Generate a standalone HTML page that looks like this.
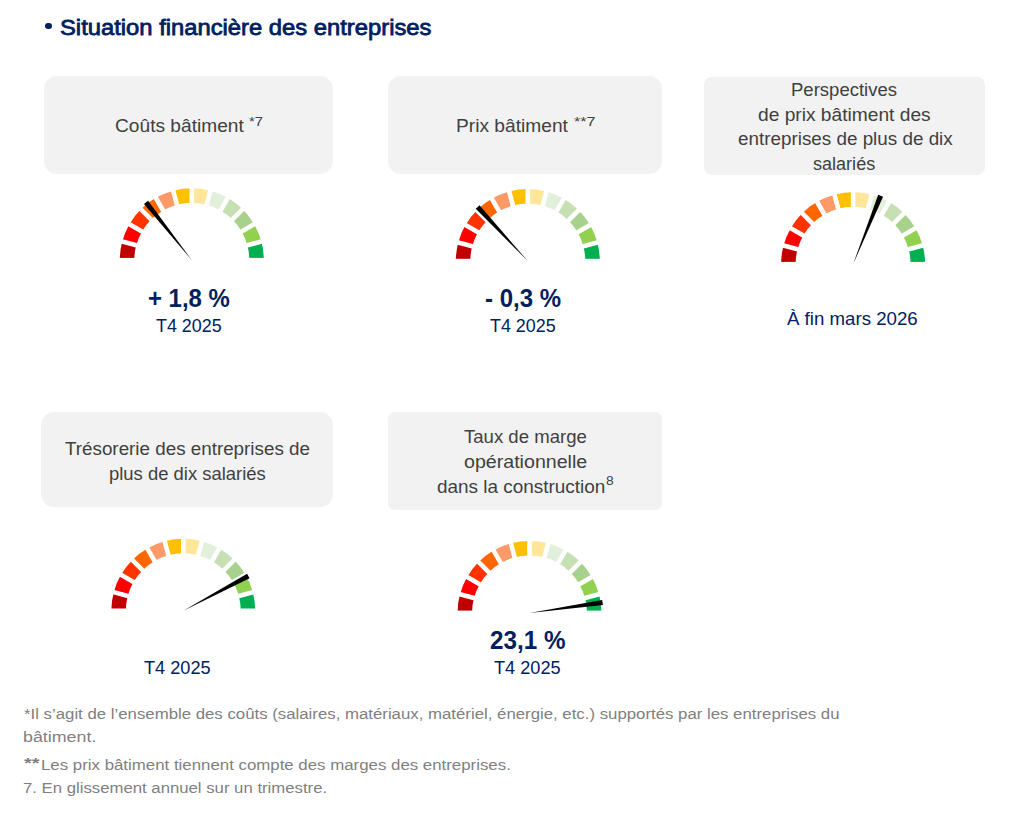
<!DOCTYPE html>
<html><head><meta charset="utf-8"><style>
html,body{margin:0;padding:0;background:#fff;}
body{width:1020px;height:815px;position:relative;overflow:hidden;font-family:"Liberation Sans",sans-serif;}
.b{position:absolute;background:#F2F2F2;}
.t{position:absolute;white-space:nowrap;transform-origin:0 0;}
.dot{position:absolute;left:45.3px;top:22.8px;width:6.4px;height:6.4px;border-radius:50%;background:#002060;}
svg{position:absolute;left:0;top:0;}
</style></head><body>
<div class="dot"></div>
<div class="b" style="left:44.2px;top:76.0px;width:288.6px;height:97.8px;border-radius:13px"></div>
<div class="b" style="left:388.2px;top:76.0px;width:273.6px;height:97.8px;border-radius:13px"></div>
<div class="b" style="left:703.9px;top:77.0px;width:281.3px;height:97.5px;border-radius:8px"></div>
<div class="b" style="left:40.8px;top:412.1px;width:291.9px;height:95.3px;border-radius:13px"></div>
<div class="b" style="left:387.9px;top:412.0px;width:274.1px;height:97.7px;border-radius:7px"></div>
<svg width="1020" height="815" viewBox="0 0 1020 815">
<path fill="#C00000" d="M119.80,260.20 A72.0,72.0 0 0 1 122.25,241.57 L136.26,245.32 A57.5,57.5 0 0 0 134.30,260.20Z"/>
<path fill="#FF0000" d="M122.25,241.57 A72.0,72.0 0 0 1 129.45,224.20 L142.00,231.45 A57.5,57.5 0 0 0 136.26,245.32Z"/>
<path fill="#FF3300" d="M129.45,224.20 A72.0,72.0 0 0 1 140.89,209.29 L151.14,219.54 A57.5,57.5 0 0 0 142.00,231.45Z"/>
<path fill="#FF6600" d="M140.89,209.29 A72.0,72.0 0 0 1 155.80,197.85 L163.05,210.40 A57.5,57.5 0 0 0 151.14,219.54Z"/>
<path fill="#FF9966" d="M155.80,197.85 A72.0,72.0 0 0 1 173.17,190.65 L176.92,204.66 A57.5,57.5 0 0 0 163.05,210.40Z"/>
<path fill="#FFC000" d="M173.17,190.65 A72.0,72.0 0 0 1 191.80,188.20 L191.80,202.70 A57.5,57.5 0 0 0 176.92,204.66Z"/>
<path fill="#FFE699" d="M191.80,188.20 A72.0,72.0 0 0 1 210.43,190.65 L206.68,204.66 A57.5,57.5 0 0 0 191.80,202.70Z"/>
<path fill="#E2EFDA" d="M210.43,190.65 A72.0,72.0 0 0 1 227.80,197.85 L220.55,210.40 A57.5,57.5 0 0 0 206.68,204.66Z"/>
<path fill="#C6E0B4" d="M227.80,197.85 A72.0,72.0 0 0 1 242.71,209.29 L232.46,219.54 A57.5,57.5 0 0 0 220.55,210.40Z"/>
<path fill="#A9D18E" d="M242.71,209.29 A72.0,72.0 0 0 1 254.15,224.20 L241.60,231.45 A57.5,57.5 0 0 0 232.46,219.54Z"/>
<path fill="#92D050" d="M254.15,224.20 A72.0,72.0 0 0 1 261.35,241.57 L247.34,245.32 A57.5,57.5 0 0 0 241.60,231.45Z"/>
<path fill="#00B050" d="M261.35,241.57 A72.0,72.0 0 0 1 263.80,260.20 L249.30,260.20 A57.5,57.5 0 0 0 247.34,245.32Z"/>
<line x1="137.30" y1="260.20" x2="116.80" y2="260.20" stroke="#fff" stroke-width="4.6"/>
<line x1="139.16" y1="246.09" x2="119.36" y2="240.79" stroke="#fff" stroke-width="4.6"/>
<line x1="144.60" y1="232.95" x2="126.85" y2="222.70" stroke="#fff" stroke-width="4.6"/>
<line x1="153.26" y1="221.66" x2="138.77" y2="207.17" stroke="#fff" stroke-width="4.6"/>
<line x1="164.55" y1="213.00" x2="154.30" y2="195.25" stroke="#fff" stroke-width="4.6"/>
<line x1="177.69" y1="207.56" x2="172.39" y2="187.76" stroke="#fff" stroke-width="4.6"/>
<line x1="191.80" y1="205.70" x2="191.80" y2="185.20" stroke="#fff" stroke-width="4.6"/>
<line x1="205.91" y1="207.56" x2="211.21" y2="187.76" stroke="#fff" stroke-width="4.6"/>
<line x1="219.05" y1="213.00" x2="229.30" y2="195.25" stroke="#fff" stroke-width="4.6"/>
<line x1="230.34" y1="221.66" x2="244.83" y2="207.17" stroke="#fff" stroke-width="4.6"/>
<line x1="239.00" y1="232.95" x2="256.75" y2="222.70" stroke="#fff" stroke-width="4.6"/>
<line x1="244.44" y1="246.09" x2="264.24" y2="240.79" stroke="#fff" stroke-width="4.6"/>
<line x1="246.30" y1="260.20" x2="266.80" y2="260.20" stroke="#fff" stroke-width="4.6"/>
<path fill="#000" d="M191.80,260.20 L148.10,200.67 L144.02,203.89Z"/>
<path fill="#C00000" d="M455.80,261.10 A72.0,72.0 0 0 1 458.25,242.47 L472.26,246.22 A57.5,57.5 0 0 0 470.30,261.10Z"/>
<path fill="#FF0000" d="M458.25,242.47 A72.0,72.0 0 0 1 465.45,225.10 L478.00,232.35 A57.5,57.5 0 0 0 472.26,246.22Z"/>
<path fill="#FF3300" d="M465.45,225.10 A72.0,72.0 0 0 1 476.89,210.19 L487.14,220.44 A57.5,57.5 0 0 0 478.00,232.35Z"/>
<path fill="#FF6600" d="M476.89,210.19 A72.0,72.0 0 0 1 491.80,198.75 L499.05,211.30 A57.5,57.5 0 0 0 487.14,220.44Z"/>
<path fill="#FF9966" d="M491.80,198.75 A72.0,72.0 0 0 1 509.17,191.55 L512.92,205.56 A57.5,57.5 0 0 0 499.05,211.30Z"/>
<path fill="#FFC000" d="M509.17,191.55 A72.0,72.0 0 0 1 527.80,189.10 L527.80,203.60 A57.5,57.5 0 0 0 512.92,205.56Z"/>
<path fill="#FFE699" d="M527.80,189.10 A72.0,72.0 0 0 1 546.43,191.55 L542.68,205.56 A57.5,57.5 0 0 0 527.80,203.60Z"/>
<path fill="#E2EFDA" d="M546.43,191.55 A72.0,72.0 0 0 1 563.80,198.75 L556.55,211.30 A57.5,57.5 0 0 0 542.68,205.56Z"/>
<path fill="#C6E0B4" d="M563.80,198.75 A72.0,72.0 0 0 1 578.71,210.19 L568.46,220.44 A57.5,57.5 0 0 0 556.55,211.30Z"/>
<path fill="#A9D18E" d="M578.71,210.19 A72.0,72.0 0 0 1 590.15,225.10 L577.60,232.35 A57.5,57.5 0 0 0 568.46,220.44Z"/>
<path fill="#92D050" d="M590.15,225.10 A72.0,72.0 0 0 1 597.35,242.47 L583.34,246.22 A57.5,57.5 0 0 0 577.60,232.35Z"/>
<path fill="#00B050" d="M597.35,242.47 A72.0,72.0 0 0 1 599.80,261.10 L585.30,261.10 A57.5,57.5 0 0 0 583.34,246.22Z"/>
<line x1="473.30" y1="261.10" x2="452.80" y2="261.10" stroke="#fff" stroke-width="4.6"/>
<line x1="475.16" y1="246.99" x2="455.36" y2="241.69" stroke="#fff" stroke-width="4.6"/>
<line x1="480.60" y1="233.85" x2="462.85" y2="223.60" stroke="#fff" stroke-width="4.6"/>
<line x1="489.26" y1="222.56" x2="474.77" y2="208.07" stroke="#fff" stroke-width="4.6"/>
<line x1="500.55" y1="213.90" x2="490.30" y2="196.15" stroke="#fff" stroke-width="4.6"/>
<line x1="513.69" y1="208.46" x2="508.39" y2="188.66" stroke="#fff" stroke-width="4.6"/>
<line x1="527.80" y1="206.60" x2="527.80" y2="186.10" stroke="#fff" stroke-width="4.6"/>
<line x1="541.91" y1="208.46" x2="547.21" y2="188.66" stroke="#fff" stroke-width="4.6"/>
<line x1="555.05" y1="213.90" x2="565.30" y2="196.15" stroke="#fff" stroke-width="4.6"/>
<line x1="566.34" y1="222.56" x2="580.83" y2="208.07" stroke="#fff" stroke-width="4.6"/>
<line x1="575.00" y1="233.85" x2="592.75" y2="223.60" stroke="#fff" stroke-width="4.6"/>
<line x1="580.44" y1="246.99" x2="600.24" y2="241.69" stroke="#fff" stroke-width="4.6"/>
<line x1="582.30" y1="261.10" x2="602.80" y2="261.10" stroke="#fff" stroke-width="4.6"/>
<path fill="#000" d="M527.80,261.10 L479.56,205.18 L475.75,208.72Z"/>
<path fill="#C00000" d="M781.10,264.20 A72.0,72.0 0 0 1 783.55,245.57 L797.56,249.32 A57.5,57.5 0 0 0 795.60,264.20Z"/>
<path fill="#FF0000" d="M783.55,245.57 A72.0,72.0 0 0 1 790.75,228.20 L803.30,235.45 A57.5,57.5 0 0 0 797.56,249.32Z"/>
<path fill="#FF3300" d="M790.75,228.20 A72.0,72.0 0 0 1 802.19,213.29 L812.44,223.54 A57.5,57.5 0 0 0 803.30,235.45Z"/>
<path fill="#FF6600" d="M802.19,213.29 A72.0,72.0 0 0 1 817.10,201.85 L824.35,214.40 A57.5,57.5 0 0 0 812.44,223.54Z"/>
<path fill="#FF9966" d="M817.10,201.85 A72.0,72.0 0 0 1 834.47,194.65 L838.22,208.66 A57.5,57.5 0 0 0 824.35,214.40Z"/>
<path fill="#FFC000" d="M834.47,194.65 A72.0,72.0 0 0 1 853.10,192.20 L853.10,206.70 A57.5,57.5 0 0 0 838.22,208.66Z"/>
<path fill="#FFE699" d="M853.10,192.20 A72.0,72.0 0 0 1 871.73,194.65 L867.98,208.66 A57.5,57.5 0 0 0 853.10,206.70Z"/>
<path fill="#E2EFDA" d="M871.73,194.65 A72.0,72.0 0 0 1 889.10,201.85 L881.85,214.40 A57.5,57.5 0 0 0 867.98,208.66Z"/>
<path fill="#C6E0B4" d="M889.10,201.85 A72.0,72.0 0 0 1 904.01,213.29 L893.76,223.54 A57.5,57.5 0 0 0 881.85,214.40Z"/>
<path fill="#A9D18E" d="M904.01,213.29 A72.0,72.0 0 0 1 915.45,228.20 L902.90,235.45 A57.5,57.5 0 0 0 893.76,223.54Z"/>
<path fill="#92D050" d="M915.45,228.20 A72.0,72.0 0 0 1 922.65,245.57 L908.64,249.32 A57.5,57.5 0 0 0 902.90,235.45Z"/>
<path fill="#00B050" d="M922.65,245.57 A72.0,72.0 0 0 1 925.10,264.20 L910.60,264.20 A57.5,57.5 0 0 0 908.64,249.32Z"/>
<line x1="798.60" y1="264.20" x2="778.10" y2="264.20" stroke="#fff" stroke-width="4.6"/>
<line x1="800.46" y1="250.09" x2="780.66" y2="244.79" stroke="#fff" stroke-width="4.6"/>
<line x1="805.90" y1="236.95" x2="788.15" y2="226.70" stroke="#fff" stroke-width="4.6"/>
<line x1="814.56" y1="225.66" x2="800.07" y2="211.17" stroke="#fff" stroke-width="4.6"/>
<line x1="825.85" y1="217.00" x2="815.60" y2="199.25" stroke="#fff" stroke-width="4.6"/>
<line x1="838.99" y1="211.56" x2="833.69" y2="191.76" stroke="#fff" stroke-width="4.6"/>
<line x1="853.10" y1="209.70" x2="853.10" y2="189.20" stroke="#fff" stroke-width="4.6"/>
<line x1="867.21" y1="211.56" x2="872.51" y2="191.76" stroke="#fff" stroke-width="4.6"/>
<line x1="880.35" y1="217.00" x2="890.60" y2="199.25" stroke="#fff" stroke-width="4.6"/>
<line x1="891.64" y1="225.66" x2="906.13" y2="211.17" stroke="#fff" stroke-width="4.6"/>
<line x1="900.30" y1="236.95" x2="918.05" y2="226.70" stroke="#fff" stroke-width="4.6"/>
<line x1="905.74" y1="250.09" x2="925.54" y2="244.79" stroke="#fff" stroke-width="4.6"/>
<line x1="907.60" y1="264.20" x2="928.10" y2="264.20" stroke="#fff" stroke-width="4.6"/>
<path fill="#000" d="M853.10,264.20 L883.04,196.70 L878.21,194.76Z"/>
<path fill="#C00000" d="M111.30,610.80 A72.0,72.0 0 0 1 113.75,592.17 L127.76,595.92 A57.5,57.5 0 0 0 125.80,610.80Z"/>
<path fill="#FF0000" d="M113.75,592.17 A72.0,72.0 0 0 1 120.95,574.80 L133.50,582.05 A57.5,57.5 0 0 0 127.76,595.92Z"/>
<path fill="#FF3300" d="M120.95,574.80 A72.0,72.0 0 0 1 132.39,559.89 L142.64,570.14 A57.5,57.5 0 0 0 133.50,582.05Z"/>
<path fill="#FF6600" d="M132.39,559.89 A72.0,72.0 0 0 1 147.30,548.45 L154.55,561.00 A57.5,57.5 0 0 0 142.64,570.14Z"/>
<path fill="#FF9966" d="M147.30,548.45 A72.0,72.0 0 0 1 164.67,541.25 L168.42,555.26 A57.5,57.5 0 0 0 154.55,561.00Z"/>
<path fill="#FFC000" d="M164.67,541.25 A72.0,72.0 0 0 1 183.30,538.80 L183.30,553.30 A57.5,57.5 0 0 0 168.42,555.26Z"/>
<path fill="#FFE699" d="M183.30,538.80 A72.0,72.0 0 0 1 201.93,541.25 L198.18,555.26 A57.5,57.5 0 0 0 183.30,553.30Z"/>
<path fill="#E2EFDA" d="M201.93,541.25 A72.0,72.0 0 0 1 219.30,548.45 L212.05,561.00 A57.5,57.5 0 0 0 198.18,555.26Z"/>
<path fill="#C6E0B4" d="M219.30,548.45 A72.0,72.0 0 0 1 234.21,559.89 L223.96,570.14 A57.5,57.5 0 0 0 212.05,561.00Z"/>
<path fill="#A9D18E" d="M234.21,559.89 A72.0,72.0 0 0 1 245.65,574.80 L233.10,582.05 A57.5,57.5 0 0 0 223.96,570.14Z"/>
<path fill="#92D050" d="M245.65,574.80 A72.0,72.0 0 0 1 252.85,592.17 L238.84,595.92 A57.5,57.5 0 0 0 233.10,582.05Z"/>
<path fill="#00B050" d="M252.85,592.17 A72.0,72.0 0 0 1 255.30,610.80 L240.80,610.80 A57.5,57.5 0 0 0 238.84,595.92Z"/>
<line x1="128.80" y1="610.80" x2="108.30" y2="610.80" stroke="#fff" stroke-width="4.6"/>
<line x1="130.66" y1="596.69" x2="110.86" y2="591.39" stroke="#fff" stroke-width="4.6"/>
<line x1="136.10" y1="583.55" x2="118.35" y2="573.30" stroke="#fff" stroke-width="4.6"/>
<line x1="144.76" y1="572.26" x2="130.27" y2="557.77" stroke="#fff" stroke-width="4.6"/>
<line x1="156.05" y1="563.60" x2="145.80" y2="545.85" stroke="#fff" stroke-width="4.6"/>
<line x1="169.19" y1="558.16" x2="163.89" y2="538.36" stroke="#fff" stroke-width="4.6"/>
<line x1="183.30" y1="556.30" x2="183.30" y2="535.80" stroke="#fff" stroke-width="4.6"/>
<line x1="197.41" y1="558.16" x2="202.71" y2="538.36" stroke="#fff" stroke-width="4.6"/>
<line x1="210.55" y1="563.60" x2="220.80" y2="545.85" stroke="#fff" stroke-width="4.6"/>
<line x1="221.84" y1="572.26" x2="236.33" y2="557.77" stroke="#fff" stroke-width="4.6"/>
<line x1="230.50" y1="583.55" x2="248.25" y2="573.30" stroke="#fff" stroke-width="4.6"/>
<line x1="235.94" y1="596.69" x2="255.74" y2="591.39" stroke="#fff" stroke-width="4.6"/>
<line x1="237.80" y1="610.80" x2="258.30" y2="610.80" stroke="#fff" stroke-width="4.6"/>
<path fill="#000" d="M183.30,610.80 L249.57,578.22 L247.11,573.63Z"/>
<path fill="#C00000" d="M457.50,612.90 A72.0,72.0 0 0 1 459.95,594.27 L473.96,598.02 A57.5,57.5 0 0 0 472.00,612.90Z"/>
<path fill="#FF0000" d="M459.95,594.27 A72.0,72.0 0 0 1 467.15,576.90 L479.70,584.15 A57.5,57.5 0 0 0 473.96,598.02Z"/>
<path fill="#FF3300" d="M467.15,576.90 A72.0,72.0 0 0 1 478.59,561.99 L488.84,572.24 A57.5,57.5 0 0 0 479.70,584.15Z"/>
<path fill="#FF6600" d="M478.59,561.99 A72.0,72.0 0 0 1 493.50,550.55 L500.75,563.10 A57.5,57.5 0 0 0 488.84,572.24Z"/>
<path fill="#FF9966" d="M493.50,550.55 A72.0,72.0 0 0 1 510.87,543.35 L514.62,557.36 A57.5,57.5 0 0 0 500.75,563.10Z"/>
<path fill="#FFC000" d="M510.87,543.35 A72.0,72.0 0 0 1 529.50,540.90 L529.50,555.40 A57.5,57.5 0 0 0 514.62,557.36Z"/>
<path fill="#FFE699" d="M529.50,540.90 A72.0,72.0 0 0 1 548.13,543.35 L544.38,557.36 A57.5,57.5 0 0 0 529.50,555.40Z"/>
<path fill="#E2EFDA" d="M548.13,543.35 A72.0,72.0 0 0 1 565.50,550.55 L558.25,563.10 A57.5,57.5 0 0 0 544.38,557.36Z"/>
<path fill="#C6E0B4" d="M565.50,550.55 A72.0,72.0 0 0 1 580.41,561.99 L570.16,572.24 A57.5,57.5 0 0 0 558.25,563.10Z"/>
<path fill="#A9D18E" d="M580.41,561.99 A72.0,72.0 0 0 1 591.85,576.90 L579.30,584.15 A57.5,57.5 0 0 0 570.16,572.24Z"/>
<path fill="#92D050" d="M591.85,576.90 A72.0,72.0 0 0 1 599.05,594.27 L585.04,598.02 A57.5,57.5 0 0 0 579.30,584.15Z"/>
<path fill="#00B050" d="M599.05,594.27 A72.0,72.0 0 0 1 601.50,612.90 L587.00,612.90 A57.5,57.5 0 0 0 585.04,598.02Z"/>
<line x1="475.00" y1="612.90" x2="454.50" y2="612.90" stroke="#fff" stroke-width="4.6"/>
<line x1="476.86" y1="598.79" x2="457.06" y2="593.49" stroke="#fff" stroke-width="4.6"/>
<line x1="482.30" y1="585.65" x2="464.55" y2="575.40" stroke="#fff" stroke-width="4.6"/>
<line x1="490.96" y1="574.36" x2="476.47" y2="559.87" stroke="#fff" stroke-width="4.6"/>
<line x1="502.25" y1="565.70" x2="492.00" y2="547.95" stroke="#fff" stroke-width="4.6"/>
<line x1="515.39" y1="560.26" x2="510.09" y2="540.46" stroke="#fff" stroke-width="4.6"/>
<line x1="529.50" y1="558.40" x2="529.50" y2="537.90" stroke="#fff" stroke-width="4.6"/>
<line x1="543.61" y1="560.26" x2="548.91" y2="540.46" stroke="#fff" stroke-width="4.6"/>
<line x1="556.75" y1="565.70" x2="567.00" y2="547.95" stroke="#fff" stroke-width="4.6"/>
<line x1="568.04" y1="574.36" x2="582.53" y2="559.87" stroke="#fff" stroke-width="4.6"/>
<line x1="576.70" y1="585.65" x2="594.45" y2="575.40" stroke="#fff" stroke-width="4.6"/>
<line x1="582.14" y1="598.79" x2="601.94" y2="593.49" stroke="#fff" stroke-width="4.6"/>
<line x1="584.00" y1="612.90" x2="604.50" y2="612.90" stroke="#fff" stroke-width="4.6"/>
<path fill="#000" d="M529.50,612.90 L602.93,605.08 L602.20,599.93Z"/>
</svg>
<div class="t" style="left:59.93px;top:16.51px;font-size:22.55px;line-height:22.55px;font-weight:normal;color:#002060;-webkit-text-stroke:0.8px #002060;transform:scaleX(1.0546)">Situation financière des entreprises</div>
<div class="t" style="left:114.74px;top:117.72px;font-size:17.45px;line-height:17.45px;font-weight:normal;color:#404040;transform:scaleX(1.0981)">Coûts bâtiment</div>
<div class="t" style="left:248.78px;top:116.23px;font-size:12.36px;line-height:12.36px;font-weight:normal;color:#404040;transform:scaleX(1.1915)">*7</div>
<div class="t" style="left:456.12px;top:117.72px;font-size:17.45px;line-height:17.45px;font-weight:normal;color:#404040;transform:scaleX(1.1000)">Prix bâtiment</div>
<div class="t" style="left:573.76px;top:116.23px;font-size:12.36px;line-height:12.36px;font-weight:normal;color:#404040;transform:scaleX(1.3056)">**7</div>
<div class="t" style="left:791.47px;top:81.85px;font-size:17.89px;line-height:17.89px;font-weight:normal;color:#404040;transform:scaleX(1.0366)">Perspectives</div>
<div class="t" style="left:758.08px;top:107.05px;font-size:17.89px;line-height:17.89px;font-weight:normal;color:#404040;transform:scaleX(1.0725)">de prix bâtiment des</div>
<div class="t" style="left:737.50px;top:130.75px;font-size:17.89px;line-height:17.89px;font-weight:normal;color:#404040;transform:scaleX(1.0541)">entreprises de plus de dix</div>
<div class="t" style="left:813.20px;top:156.05px;font-size:17.89px;line-height:17.89px;font-weight:normal;color:#404040;transform:scaleX(1.0097)">salariés</div>
<div class="t" style="left:147.78px;top:285.88px;font-size:25.89px;line-height:25.89px;font-weight:bold;color:#002060;transform:scaleX(0.9247)">+ 1,8 %</div>
<div class="t" style="left:155.60px;top:317.72px;font-size:17.45px;line-height:17.45px;font-weight:normal;color:#002060;transform:scaleX(1.0251)">T4 2025</div>
<div class="t" style="left:485.10px;top:285.88px;font-size:25.89px;line-height:25.89px;font-weight:bold;color:#002060;transform:scaleX(0.9267)">- 0,3 %</div>
<div class="t" style="left:490.10px;top:317.72px;font-size:17.45px;line-height:17.45px;font-weight:normal;color:#002060;transform:scaleX(1.0251)">T4 2025</div>
<div class="t" style="left:787.25px;top:310.52px;font-size:17.45px;line-height:17.45px;font-weight:normal;color:#002060;transform:scaleX(1.0697)">À fin mars 2026</div>
<div class="t" style="left:64.88px;top:441.02px;font-size:17.45px;line-height:17.45px;font-weight:normal;color:#404040;transform:scaleX(1.0784)">Trésorerie des entreprises de</div>
<div class="t" style="left:109.00px;top:465.72px;font-size:17.45px;line-height:17.45px;font-weight:normal;color:#404040;transform:scaleX(1.0572)">plus de dix salariés</div>
<div class="t" style="left:464.08px;top:429.02px;font-size:17.45px;line-height:17.45px;font-weight:normal;color:#404040;transform:scaleX(1.0645)">Taux de marge</div>
<div class="t" style="left:463.67px;top:453.72px;font-size:17.45px;line-height:17.45px;font-weight:normal;color:#404040;transform:scaleX(1.1250)">opérationnelle</div>
<div class="t" style="left:437.19px;top:478.72px;font-size:17.45px;line-height:17.45px;font-weight:normal;color:#404040;transform:scaleX(1.0855)">dans la construction</div>
<div class="t" style="left:605.91px;top:475.01px;font-size:12.51px;line-height:12.51px;font-weight:normal;color:#404040;transform:scaleX(1.1056)">8</div>
<div class="t" style="left:143.59px;top:659.72px;font-size:17.45px;line-height:17.45px;font-weight:normal;color:#002060;transform:scaleX(1.0409)">T4 2025</div>
<div class="t" style="left:489.65px;top:626.83px;font-size:26.18px;line-height:26.18px;font-weight:bold;color:#002060;transform:scaleX(0.9259)">23,1 %</div>
<div class="t" style="left:494.09px;top:659.72px;font-size:17.45px;line-height:17.45px;font-weight:normal;color:#002060;transform:scaleX(1.0409)">T4 2025</div>
<div class="t" style="left:23.95px;top:705.69px;font-size:15.13px;line-height:15.13px;font-weight:normal;color:#7f7f7f;transform:scaleX(1.1099)">*Il s’agit de l’ensemble des coûts (salaires, matériaux, matériel, énergie, etc.) supportés par les entreprises du</div>
<div class="t" style="left:23.04px;top:728.89px;font-size:15.13px;line-height:15.13px;font-weight:normal;color:#7f7f7f;transform:scaleX(1.1793)">bâtiment.</div>
<div class="t" style="left:24.15px;top:754.68px;font-size:15.50px;line-height:15.50px;font-weight:bold;color:#7f7f7f;transform:scaleX(1.2820)">**</div>
<div class="t" style="left:40.61px;top:757.09px;font-size:15.13px;line-height:15.13px;font-weight:normal;color:#7f7f7f;transform:scaleX(1.1132)">Les prix bâtiment tiennent compte des marges des entreprises.</div>
<div class="t" style="left:23.36px;top:779.69px;font-size:15.13px;line-height:15.13px;font-weight:normal;color:#7f7f7f;transform:scaleX(1.1062)">7. En glissement annuel sur un trimestre.</div>
</body></html>
